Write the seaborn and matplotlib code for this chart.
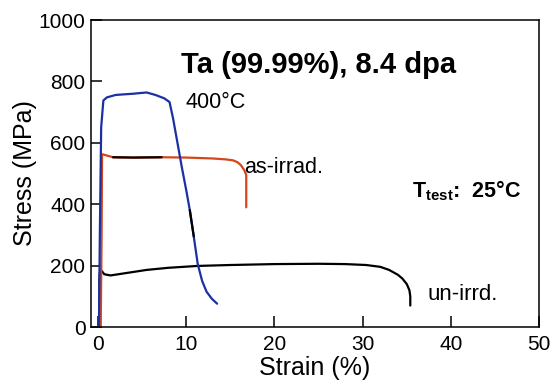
import numpy as np
import matplotlib
matplotlib.use("Agg")
import matplotlib.pyplot as plt
import seaborn as sns

# stress-strain curves, Ta (99.99%), 8.4 dpa
strain_400 = [0.1, 0.2, 0.35, 0.6, 1.0, 2.0, 3.0, 4.0, 5.5, 6.5, 7.5, 8.1, 8.5, 9.0, 9.5, 10.0, 10.4,
              10.85, 11.3, 11.8, 12.3, 12.9, 13.5]
stress_400 = [0, 300, 650, 738, 748, 756, 758, 760, 764, 756, 745, 733, 680, 600, 520, 445, 381,
              295, 205, 150, 115, 92, 76]
# short stretch of the 400C curve that is drawn black in the figure
strain_400_blk = [10.4, 10.85]
stress_400_blk = [381, 295]

strain_irr = [0.3, 0.4, 0.45, 0.7, 1.2, 1.7, 4.0, 7.2, 10.0, 13.0, 14.5, 15.3, 15.8, 16.2, 16.6, 16.8, 16.8]
stress_irr = [0, 300, 563, 561, 557, 553, 552, 553, 552, 549, 546, 543, 537, 527, 510, 495, 390]
strain_irr_blk = [1.7, 4.0, 7.2]
stress_irr_blk = [553, 552, 553]

strain_un = [0.15, 0.15, 0.2, 0.35, 0.7, 1.4, 3.0, 5.5, 8.0, 11.3, 15.0, 20.0, 25.0, 28.0, 30.4,
             32.0, 33.0, 34.0, 34.5, 35.0, 35.3, 35.4, 35.4]
stress_un = [0, 150, 178, 185, 172, 168, 175, 186, 193, 199, 202, 205, 206, 205, 202,
             196, 186, 170, 158, 140, 120, 100, 70]

x_ticks = [0, 10, 20, 30, 40, 50]
y_ticks = [0, 200, 400, 600, 800, 1000]

blue = "#1a30a4"
red = "#d6461a"

sns.set_style("ticks")
plt.rcParams['font.family'] = ['Liberation Sans', 'DejaVu Sans']
plt.rcParams['mathtext.fontset'] = 'custom'
plt.rcParams['mathtext.rm'] = 'Liberation Sans'
plt.rcParams['mathtext.bf'] = 'Liberation Sans:bold'
plt.rcParams['text.color'] = 'black'
plt.rcParams['axes.labelcolor'] = 'black'

fig = plt.figure(figsize=(5.54, 3.86), dpi=100)
ax = fig.add_axes([0.1643, 0.1528, 0.8087, 0.7953])

lw = 1.6
sns.lineplot(x=strain_un, y=stress_un, sort=False, estimator=None, color="black", lw=lw, ax=ax)
sns.lineplot(x=strain_irr, y=stress_irr, sort=False, estimator=None, color=red, lw=lw, ax=ax)
sns.lineplot(x=strain_irr_blk, y=stress_irr_blk, sort=False, estimator=None, color="black", lw=lw, ax=ax)
sns.lineplot(x=strain_400, y=stress_400, sort=False, estimator=None, color=blue, lw=lw, ax=ax)
sns.lineplot(x=strain_400_blk, y=stress_400_blk, sort=False, estimator=None, color="black", lw=lw, ax=ax)

ax.set_xlim(-0.8, 50)
ax.set_ylim(0, 1000)
ax.set_xticks(x_ticks)
ax.set_yticks(y_ticks)
ax.tick_params(direction='in', length=8, width=1.1, labelsize=15, color='black', labelcolor='black')
ax.tick_params(axis='x', pad=6)
ax.tick_params(axis='y', pad=4)
for s in ax.spines.values():
    s.set_linewidth(1.1)
    s.set_color('black')

ax.set_xlabel("Strain (%)", fontsize=18, labelpad=1)
ax.set_ylabel("Stress (MPa)", fontsize=18, labelpad=1)

ax.text(25, 827, "Ta (99.99%), 8.4 dpa", fontsize=21, fontweight='bold', ha='center', va='baseline')
ax.text(13.3, 713, "400°C", fontsize=15.5, ha='center', va='baseline')
ax.text(16.6, 503, "as-irrad.", fontsize=15.5, ha='left', va='baseline')
ax.text(37.3, 88, "un-irrd.", fontsize=16, ha='left', va='baseline')
ax.text(35.6, 423, r"$\mathbf{T_{test}}$:  25°C", fontsize=15.5, fontweight='bold', ha='left', va='baseline')

fig.savefig("out.png", dpi=100)
